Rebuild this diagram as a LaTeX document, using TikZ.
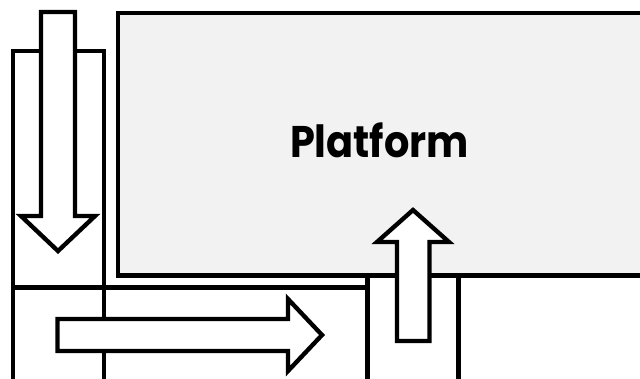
\documentclass[tikz,border=0pt]{standalone}
\usepackage{fontspec}
\setmainfont{Poppins}
\usepackage{xcolor}
\usepackage{graphicx}
\usepackage{tikz}
\definecolor{platgray}{RGB}{242, 242, 242}

\begin{document}
\begin{tikzpicture}[x=0.025cm, y=-0.025cm,
  box/.style={draw, line width=3.1pt},
  platbox/.style={draw, line width=3.1pt, fill=platgray},
  bigarrow/.style={draw, fill=white, line width=3.1pt, line join=miter},
  title/.style={font=\fontsize{31.5}{31.5}\selectfont\bfseries, anchor=base},
]
  \useasboundingbox (0,0) rectangle (640,378);
  \clip (0,0) rectangle (640,378);

  % Platform
  \draw[platbox] (118,13) rectangle (700,275.5);
  \node[title] (platform) at (379.5,157) {\scalebox{0.9}[1]{Platform}};

  % Side column and bottom layers
  \draw[box] (13,51) rectangle (104,420);
  \draw[box] (13,287.5) rectangle (367.5,420);
  \draw[box] (367.5,275.5) rectangle (458.5,420);

  % Arrows
  \draw[bigarrow] (41,12) -- (75,12) -- (75,216) -- (95,216) -- (58,251)
    -- (21,216) -- (41,216) -- cycle;
  \draw[bigarrow] (57.5,319) -- (288,319) -- (288,299) -- (322,335)
    -- (288,371) -- (288,351) -- (57.5,351) -- cycle;
  \draw[bigarrow] (397,341) -- (397,242) -- (377,242) -- (413,210)
    -- (449,242) -- (429.5,242) -- (429.5,341) -- cycle;

\end{tikzpicture}
\end{document}
